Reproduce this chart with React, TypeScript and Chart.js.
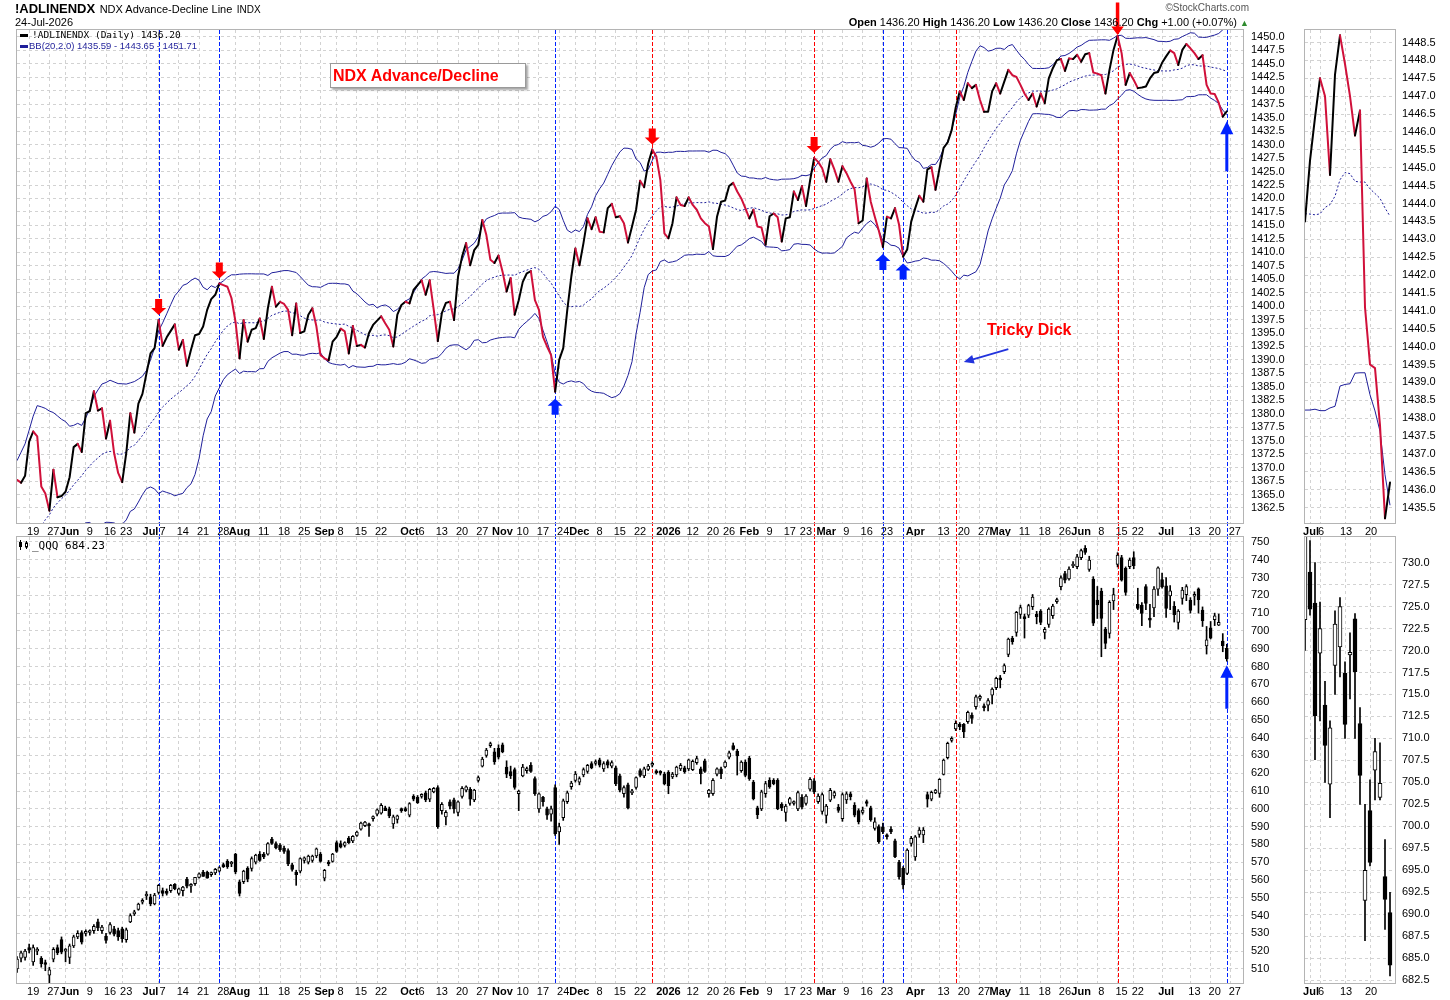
import { useEffect, useRef } from 'react';
import { Chart, registerables } from 'chart.js';

Chart.register(...registerables);

// trading sessions: first bar, and the end of the time axis (a few empty sessions after the last bar)
const FIRST_SESSION = '2025-05-14';
const AXIS_END = '2026-07-30';
const HOLIDAYS = [
    '2025-05-26', '2025-06-19', '2025-07-04', '2025-09-01', '2025-11-27', '2025-12-25',
    '2026-01-01', '2026-01-19', '2026-02-16', '2026-04-03', '2026-05-25', '2026-06-19', '2026-07-03'
];

// !ADLINENDX daily values, 14-May-2025 .. 24-Jul-2026
const AD_LINE = [
    1367.7, 1367.2, 1368.5, 1374.8, 1376.7, 1375.8, 1366.5, 1365.2, 1362.0, 1369.6,
    1364.5, 1364.7, 1365.5, 1368.2, 1373.8, 1374.4, 1372.9, 1380.1, 1380.5, 1384.2,
    1380.6, 1381.0, 1375.4, 1378.7, 1372.7, 1369.0, 1367.3, 1372.7, 1380.1, 1376.5,
    1381.9, 1383.7, 1387.5, 1391.2, 1392.2, 1397.4, 1392.6, 1394.2, 1395.4, 1396.6,
    1391.9, 1393.7, 1388.9, 1391.9, 1394.6, 1394.8, 1396.2, 1399.3, 1401.3, 1402.1,
    1404.2, 1403.9, 1403.6, 1401.5, 1397.1, 1390.3, 1397.4, 1393.4, 1395.6, 1395.9,
    1397.7, 1393.9, 1399.6, 1403.6, 1399.9, 1400.8, 1400.4, 1399.3, 1394.6, 1400.5,
    1395.0, 1395.3, 1398.4, 1399.6, 1396.2, 1390.9, 1390.3, 1389.9, 1393.4, 1394.3,
    1395.8, 1395.3, 1391.2, 1396.3, 1392.6, 1392.8, 1392.3, 1395.0, 1396.5, 1397.3,
    1398.1, 1396.8, 1395.6, 1392.5, 1398.4, 1400.2, 1400.8, 1400.5, 1403.0, 1403.9,
    1404.8, 1402.1, 1404.8, 1399.3, 1393.5, 1398.7, 1400.6, 1400.8, 1397.4, 1405.5,
    1409.2, 1411.7, 1407.6, 1410.4, 1411.4, 1416.0, 1413.2, 1408.6, 1408.0, 1409.4,
    1406.4, 1402.7, 1405.2, 1398.4, 1401.1, 1404.5, 1406.1, 1406.5, 1401.1, 1399.3,
    1394.3, 1392.5, 1390.9, 1384.1, 1390.0, 1392.2, 1399.3, 1405.5, 1410.7, 1407.6,
    1411.7, 1416.3, 1414.3, 1416.5, 1413.8, 1413.7, 1418.2, 1419.0, 1416.5, 1416.7,
    1415.4, 1411.8, 1414.8, 1417.9, 1423.3, 1422.1, 1426.5, 1429.1, 1427.8, 1423.4,
    1413.5, 1412.6, 1415.4, 1420.2, 1418.8, 1418.6, 1420.2, 1418.8, 1417.9, 1416.3,
    1415.4, 1414.8, 1410.6, 1416.6, 1419.4, 1419.6, 1422.3, 1422.9, 1421.3, 1420.0,
    1418.2, 1416.3, 1417.9, 1414.8, 1414.6, 1411.4, 1416.7, 1417.2, 1416.5, 1412.0,
    1416.3, 1416.5, 1421.3, 1419.7, 1422.3, 1418.6, 1423.3, 1427.5, 1426.8, 1425.6,
    1423.1, 1427.3, 1425.4, 1423.1, 1426.0, 1424.7, 1423.1, 1421.7, 1415.4, 1415.9,
    1423.7, 1419.4, 1416.6, 1414.0, 1411.0, 1416.6, 1416.3, 1418.2, 1415.1, 1409.2,
    1410.5, 1415.7, 1418.2, 1420.5, 1419.4, 1425.4, 1425.8, 1421.6, 1425.6, 1429.4,
    1430.4, 1432.7, 1436.9, 1439.9, 1438.3, 1441.4, 1440.5, 1441.1, 1438.3, 1436.1,
    1436.1, 1439.9, 1441.4, 1439.5, 1441.7, 1443.9, 1442.9, 1442.6, 1441.1, 1439.5,
    1438.3, 1439.5, 1437.1, 1439.5, 1437.7, 1442.3, 1444.2, 1445.7, 1445.9, 1443.7,
    1446.0, 1445.9, 1446.7, 1445.4, 1446.8, 1447.0, 1443.4, 1443.2, 1442.9, 1439.5,
    1443.9, 1447.6, 1450.2, 1447.0, 1441.1, 1443.3, 1442.0, 1440.5, 1440.6, 1440.8,
    1442.3, 1443.3, 1443.5, 1445.2, 1446.4, 1447.5, 1447.0, 1444.8, 1447.6, 1448.7,
    1447.9, 1447.0, 1445.9, 1446.6, 1441.1, 1439.5, 1439.4, 1437.8, 1435.2, 1436.2
];

// closes before the first bar, only used to seed the 20-day Bollinger Bands
const BB_SEED = [
    1328, 1331, 1333, 1336, 1338, 1337, 1341, 1344, 1343, 1347,
    1349, 1352, 1350, 1354, 1357, 1356, 1360, 1364, 1368
];

// _QQQ daily candles: [open, high, low, close]
const QQQ = [
    [510, 517, 508, 515.5], [516, 520, 514, 519], [516.5, 521, 515, 520], [522, 524, 519, 520.5], [514, 523.5, 512, 522],
    [520, 522, 518, 521], [516, 517, 511, 513], [513.5, 515, 509, 512.5], [506.5, 511, 502, 509.5], [515.5, 522, 514, 521],
    [522, 523.5, 518, 519], [526.5, 528, 518.5, 519.5], [520, 521.5, 514, 520.5], [516.5, 524, 513, 523], [523, 529, 522, 528],
    [528, 531.5, 527, 530], [530.5, 531.5, 524, 525], [530, 532, 528.5, 530.5], [530.5, 532, 529, 531], [531.5, 535, 530, 534],
    [536.5, 538, 531.5, 533], [531.5, 534.5, 530, 533.5], [528.5, 530, 524.5, 526], [530.5, 536, 529.5, 535], [532.5, 534, 528.5, 529.5],
    [531.5, 533, 526, 528], [532.5, 533.5, 525, 527], [526.5, 533, 525, 532], [536.5, 541, 536, 540], [541, 543, 540, 542],
    [543.5, 547, 543, 546.5], [547.5, 549.5, 546.5, 548], [551, 553.5, 549, 551.5], [550.5, 552, 545.5, 546.5], [546.5, 552.5, 546, 551.5],
    [553, 557.5, 552, 557], [554, 555.5, 551, 552.5], [553.5, 555, 551.5, 552.5], [554, 557.5, 553, 557], [557.5, 558, 554.5, 555],
    [552.5, 555.5, 551.5, 555], [554, 556.5, 551, 556], [560.5, 561.5, 555.5, 556.5], [556.5, 558, 553, 557], [558, 561.5, 557, 561.5],
    [561.5, 564, 561, 563.5], [564.5, 565.5, 562, 562], [564.5, 565, 561, 561], [563, 564.5, 562, 563.5], [564, 566.5, 563, 566],
    [565, 567.5, 564.5, 567], [568.5, 569.5, 567, 567.5], [570.5, 571.5, 566.5, 567.5], [569, 570.5, 567.5, 569.5], [574.5, 575, 563.5, 564.5],
    [559, 560, 551, 552.5], [559, 565.5, 558, 565], [566.5, 567.5, 559, 560.5], [566.5, 573, 565, 572], [570, 574.5, 569, 574],
    [574.5, 576, 570.5, 571], [574.5, 575.5, 572, 573], [574.5, 581, 574, 580.5], [583, 584, 580, 580.5], [580.5, 581.5, 577.5, 578],
    [579.5, 580.5, 576, 577], [578, 579, 575, 576], [576.5, 577.5, 568, 569], [568.5, 569.5, 565, 566], [564.5, 565.5, 557, 563],
    [565, 572.5, 564, 572], [571, 573, 569.5, 572.5], [570, 574, 569, 573.5], [571, 574, 570, 573.5], [573.5, 578, 572.5, 577.5],
    [574.5, 575.5, 570, 570.5], [561, 566, 559.5, 565.5], [570, 571, 568, 569], [570.5, 575, 570, 574.5], [581, 582, 575.5, 576],
    [580.5, 582, 578, 578.5], [579.5, 581.5, 578.5, 581], [583.5, 584.5, 580.5, 581], [582, 585, 581, 584.5], [585, 587.5, 584.5, 587],
    [588.5, 592.5, 588, 592], [590.5, 593, 590, 592.5], [591, 592, 584.5, 590.5], [594.5, 596, 593, 595.5], [597, 600, 596, 599.5],
    [597.5, 603, 597, 602], [600.5, 601.5, 599, 599], [600, 601, 595, 596], [591.5, 596.5, 589, 595.5], [594, 596.5, 592, 596],
    [599.5, 600.5, 598, 599], [600, 601, 598.5, 599], [596.5, 603.5, 595.5, 603], [607, 608, 604.5, 605.5], [606.5, 607.5, 603, 603.5],
    [607, 608.5, 606, 608], [609, 610, 604, 605], [605.5, 611.5, 604, 611], [609.5, 612, 609, 611.5],
    [612, 613, 589, 590], [599, 603.5, 597, 602.5], [595.5, 599, 591, 598], [604, 605, 600, 601.5], [605, 606, 597.5, 600],
    [598, 604.5, 596, 604], [607, 612.5, 606, 611.5], [610.5, 613, 609.5, 612.3], [611, 612, 602, 605.5], [605, 611, 604, 610.5],
    [616, 618.5, 615, 617.5], [624, 629, 623.5, 628], [630, 634, 629, 633], [635.5, 637.5, 634.5, 636], [632, 634, 625, 626.5],
    [634, 636, 628, 629], [636, 637, 631.5, 632], [623.5, 627, 617.5, 619.5], [621, 624, 617, 618.5], [622, 623, 611, 612],
    [608.5, 610.5, 599, 610], [618.5, 625, 618, 623.5], [621.5, 623.5, 620, 622.5], [624.5, 626, 620.5, 621], [617, 618, 607.5, 608.5],
    [600, 609, 598, 608.5], [606.5, 607, 601.5, 604], [600, 601, 594, 596.5], [597, 601.5, 593, 600], [612, 613.5, 585, 586],
    [587, 592, 580, 590], [595, 605.5, 593.5, 604.5], [604, 610, 603, 609], [612.5, 615.5, 611, 614.5], [616, 621, 615, 619.5],
    [615, 618, 613.5, 617], [619, 623, 618, 622], [621, 625, 620, 624.5], [625.5, 626.5, 622.5, 623], [625.5, 627.5, 624.5, 626.5],
    [627.5, 628.5, 623.5, 624.5], [622.5, 626.5, 621, 625.5], [626.5, 627.5, 623, 624.5], [624, 627, 623, 626], [623, 624, 613, 614],
    [618.5, 619.5, 609.5, 610.5], [608.5, 613, 606.5, 612], [613.5, 614.5, 600, 600.5], [609, 611, 608, 610], [612, 618, 611, 617.5],
    [621.5, 622.5, 618, 618.8], [618.5, 623.5, 617.5, 622.5], [622.2, 625, 621.5, 624], [624.5, 626.5, 623.5, 625], [620.8, 622, 619.5, 620.2],
    [620.5, 621.5, 619, 620], [619.5, 620.5, 613.5, 614], [620.5, 621.5, 608.5, 613], [618, 620.5, 617, 619.5], [619, 624, 618, 623.5],
    [622.5, 625.5, 621.5, 624.5], [623, 624, 620, 620.7], [622.5, 628, 621.5, 627.5], [622, 627.5, 621.5, 626.7], [626, 629.5, 625, 628.2],
    [622.5, 623.5, 614, 619.8], [627, 628, 620.5, 621], [608.5, 611, 606.5, 610.5], [608.5, 617, 607.5, 616], [619.5, 623, 618.5, 622.5],
    [622.5, 623.5, 617, 619.8], [623.5, 627, 623, 626.3], [629, 632.5, 628, 631.5], [635.5, 637, 633, 633.4], [632.5, 633.5, 619, 629.7],
    [621.5, 627, 620.5, 626.3], [626.3, 627.5, 618, 618.8], [628.5, 629.5, 616, 617], [615, 616, 605, 605.7], [600.5, 601.5, 594.5, 596.7],
    [600, 610.5, 599, 609.5], [608.5, 615.5, 606.5, 614.2], [616, 617.5, 611.5, 612.3], [616, 617, 613.5, 614.1], [616, 617, 599.5, 600.1],
    [602.5, 603.5, 599, 600.5], [598, 602.5, 593, 601.6], [603, 606.5, 602, 605.7], [603, 604.5, 602, 603.3], [600, 610, 599, 609.1],
    [606.5, 608, 600, 601], [603, 608, 602, 607.2], [611, 617.5, 610, 616.6], [615.8, 617, 608.5, 609.5], [604, 608.5, 603, 607.2],
    [598.5, 609, 597, 608], [596.3, 602.5, 592, 601.6], [604.8, 611.5, 604, 610.4], [607.2, 610, 606, 609.1], [601, 602.5, 598, 599.1],
    [594.5, 609, 593, 608],
    [605, 609.5, 603, 608.5], [608.5, 609.5, 605, 606.8], [602, 603.5, 595.5, 596.5], [599, 600, 591.5, 592.7], [598, 601, 597, 599.3],
    [603.5, 605, 601.5, 603], [600.5, 601.5, 593, 593.7], [589, 595, 588, 592.7], [590, 591, 580.5, 581.5], [589.9, 592, 586, 587.1],
    [584.9, 586, 583, 584.3], [588.5, 590, 586, 587.1], [582, 583, 572.5, 573.1], [570, 571, 560.5, 561.8], [566.5, 567.5, 555, 557.2],
    [563.7, 577.5, 563, 576.8], [580.6, 584.5, 579, 583.4], [573, 585, 571, 584.3], [585.6, 589.5, 584, 588.1], [585.3, 589.5, 581, 588.1],
    [608, 609.5, 601, 605.5], [605.5, 610, 604.5, 609.3], [609, 611, 608.5, 610.6], [608.7, 617, 606.5, 616.6], [619.4, 628, 619, 627.4],
    [628.7, 637.5, 628, 636.8], [638.5, 640.5, 637.5, 639.6], [644.9, 649.5, 644, 648.1], [647.5, 648.5, 644.5, 646.2], [647.5, 648, 640, 643.3],
    [649, 655, 648, 654.2], [652.7, 654, 648, 650.8], [657.4, 664, 656, 663], [662, 664, 661, 663.2], [657.5, 659, 655, 656.8],
    [658.3, 662, 655, 660.8], [663.9, 668, 659, 667.3], [668.1, 674, 667, 673.3], [673.7, 675, 668, 672.4], [677.1, 681.5, 676, 680.5],
    [686.8, 696, 685.5, 695.4], [695.8, 697, 692.5, 693.9], [699.2, 711, 697, 710.4], [709.3, 714.5, 707, 713.1], [708, 709.5, 696, 706.7],
    [708.9, 715, 707.5, 714.2], [713.6, 720.5, 712, 719], [709.5, 711, 704, 708], [711.2, 712, 703.5, 704.8], [699.2, 702, 695.5, 700.9],
    [703.7, 713, 702, 712.3], [708.6, 715, 707, 714], [716.5, 718.5, 715.5, 717], [724.9, 731, 723, 729.9], [732.3, 733.5, 727, 728.6],
    [729.2, 736, 728.5, 734.8], [736.5, 739, 735.5, 737.4], [736.1, 743, 735, 741.7], [741.2, 746, 740, 745.1], [746.4, 748, 743, 744.2],
    [734.6, 742, 733.5, 739.8], [729.2, 730.5, 703, 704.3], [717.4, 725, 707, 714.6], [722.4, 724, 685.5, 707], [701.1, 702, 690, 693],
    [698.6, 717, 696, 716.1], [716.8, 724, 712, 720.5], [737.4, 744, 736, 742.7], [741.2, 742.5, 728, 728.6], [735.2, 736, 720, 721.7],
    [736.1, 741, 735, 739.8], [741.2, 744.5, 735, 736.7], [714.9, 724, 712, 712.7], [714.6, 716, 703, 709.9], [724.9, 726, 712, 715.5],
    [706.5, 715, 702, 706.1], [713, 725, 708, 723.5], [723.5, 736, 720, 735.5],
    [728.9, 732.5, 724, 724.7], [725.4, 730, 707.6, 712.6], [719.7, 725.5, 712, 722.5], [713.8, 716.5, 705, 709.2], [704.8, 712, 701, 711.2],
    [718.3, 724.5, 715, 723], [720.4, 726, 717, 725], [717.4, 718.7, 710, 711.6], [719.5, 722, 714.5, 719.8], [723.6, 724.2, 710, 717.6],
    [711.7, 713.5, 702.5, 705.8], [691.6, 702.5, 687, 695], [701.8, 705.3, 695.5, 695.9], [706.4, 710, 703, 708.5], [703.3, 709.5, 703, 704.9],
    [694.3, 698.5, 688.3, 691.7], [690.2, 692.5, 683, 684.23]
];

// date axis labels (weeks, months in bold)
const AXIS_LABELS = [
    ['2025-05-19', '19'], ['2025-05-27', '27'], ['2025-06-02', 'Jun'], ['2025-06-09', '9'], ['2025-06-16', '16'],
    ['2025-06-23', '23'], ['2025-07-01', 'Jul'], ['2025-07-07', '7'], ['2025-07-14', '14'], ['2025-07-21', '21'],
    ['2025-07-28', '28'], ['2025-08-01', 'Aug'], ['2025-08-11', '11'], ['2025-08-18', '18'], ['2025-08-25', '25'],
    ['2025-09-02', 'Sep'], ['2025-09-08', '8'], ['2025-09-15', '15'], ['2025-09-22', '22'], ['2025-10-01', 'Oct'],
    ['2025-10-06', '6'], ['2025-10-13', '13'], ['2025-10-20', '20'], ['2025-10-27', '27'], ['2025-11-03', 'Nov'],
    ['2025-11-10', '10'], ['2025-11-17', '17'], ['2025-11-24', '24'], ['2025-12-01', 'Dec'], ['2025-12-08', '8'],
    ['2025-12-15', '15'], ['2025-12-22', '22'], ['2026-01-02', '2026'], ['2026-01-12', '12'], ['2026-01-20', '20'],
    ['2026-01-26', '26'], ['2026-02-02', 'Feb'], ['2026-02-09', '9'], ['2026-02-17', '17'], ['2026-02-23', '23'],
    ['2026-03-02', 'Mar'], ['2026-03-09', '9'], ['2026-03-16', '16'], ['2026-03-23', '23'], ['2026-04-01', 'Apr'],
    ['2026-04-13', '13'], ['2026-04-20', '20'], ['2026-04-27', '27'], ['2026-05-01', 'May'], ['2026-05-11', '11'],
    ['2026-05-18', '18'], ['2026-05-26', '26'], ['2026-06-01', 'Jun'], ['2026-06-08', '8'], ['2026-06-15', '15'],
    ['2026-06-22', '22'], ['2026-07-01', 'Jul'], ['2026-07-13', '13'], ['2026-07-20', '20'], ['2026-07-27', '27']
];

// zoomed panel on the right: first session shown and its labels
const ZOOM_FIRST = '2026-06-30';
const ZOOM_LABELS = [['2026-07-01', 'Jul'], ['2026-07-06', '6'], ['2026-07-13', '13'], ['2026-07-20', '20']];

// annotations
const RED_MARKERS = ['2025-12-29', '2026-02-26', '2026-04-17', '2026-06-15'];
const BLUE_MARKERS = ['2025-07-07', '2025-07-28', '2025-11-21', '2026-03-23', '2026-03-30', '2026-07-24'];
const PEAK_ARROWS = ['2025-07-07', '2025-07-28', '2025-12-29', '2026-02-26'];
const TROUGH_ARROWS = ['2025-11-21', '2026-03-23', '2026-03-30'];
const TOP_ARROW = '2026-06-15';
const LAST_ARROW = '2026-07-24';
const TRICKY_DICK_ARROW = [['2026-05-06', 1392.0], ['2026-04-21', 1389.6]];

const SANS = "'Liberation Sans', Arial, Helvetica, sans-serif";
const MONO = "'DejaVu Sans Mono', monospace";
const INK = '#000000';
const DOWN = '#d0103a';
const NAVY = '#1f1f9a';
const GRID = '#d2d2d2';
const FRAME = '#b4b4b4';
const RED = '#ff0000';
const BLUE = '#0022ff';

function sessions(from: string, to: string) {
    const out: string[] = [];
    const d = new Date(from + 'T00:00:00Z');
    const end = new Date(to + 'T00:00:00Z');
    while (d <= end) {
        const key = d.toISOString().slice(0, 10);
        const wd = d.getUTCDay();
        if (wd !== 0 && wd !== 6 && !HOLIDAYS.includes(key)) out.push(key);
        d.setUTCDate(d.getUTCDate() + 1);
    }
    return out;
}

function bollinger(values: number[], seed: number[], n: number, k: number) {
    const all = [...seed, ...values];
    const upper: number[] = [];
    const middle: number[] = [];
    const lower: number[] = [];
    for (let i = 0; i < values.length; i++) {
        const end = i + seed.length + 1;
        const win = all.slice(end - n, end);
        const m = win.reduce((a, b) => a + b, 0) / n;
        const sd = Math.sqrt(win.reduce((a, b) => a + (b - m) * (b - m), 0) / n);
        middle.push(m);
        upper.push(m + k * sd);
        lower.push(m - k * sd);
    }
    return { upper, middle, lower };
}

const DAYS = sessions(FIRST_SESSION, AXIS_END);
const dayIndex = (d: string) => DAYS.indexOf(d);
const ZOOM_START = dayIndex(ZOOM_FIRST);
const ZOOM_DAYS = DAYS.slice(ZOOM_START, AD_LINE.length + 1);
const BB = bollinger(AD_LINE, BB_SEED, 20, 2);

function xAxis(labels: string[], names: string[][], labelOffset: number) {
    const text = new Map(names.map(([d, t]) => [d, t]));
    const at = (i: number) => text.get(labels[i]) ?? '';
    return {
        type: 'category',
        offset: false,
        grid: { color: (c: any) => (at(c.index) ? GRID : 'rgba(0,0,0,0)'), drawTicks: false, offset: false },
        border: { display: false, dash: [3, 3] },
        ticks: {
            autoSkip: false,
            maxRotation: 0,
            minRotation: 0,
            padding: 2,
            labelOffset,
            color: INK,
            callback: (_v: any, i: number) => at(i),
            font: (c: any) => ({ family: SANS, size: 11, weight: /^\d{1,2}$/.test(at(c.index)) ? 'normal' : 'bold' })
        },
        afterFit: (s: any) => {
            s.height = 14;
            s.paddingLeft = 0;
            s.paddingRight = 0;
        }
    };
}

function yAxis(min: number, max: number, step: number, lo: number, hi: number, digits: number, width: number, pad: number) {
    return {
        position: 'right',
        min,
        max,
        grid: { color: GRID, drawTicks: false },
        border: { display: false, dash: [3, 3] },
        ticks: {
            stepSize: step,
            includeBounds: false,
            maxTicksLimit: 200,
            autoSkip: false,
            padding: pad,
            color: INK,
            font: { family: SANS, size: 11 },
            callback: (v: any) => Number(v).toFixed(digits)
        },
        afterBuildTicks: (s: any) => {
            s.ticks = s.ticks.filter((t: any) => t.value >= lo - 1e-6 && t.value <= hi + 1e-6);
        },
        afterFit: (s: any) => {
            s.width = width;
            s.paddingTop = 0;
            s.paddingBottom = 0;
        }
    };
}

function drawFrame(chart: any) {
    const { ctx, chartArea: a } = chart;
    ctx.save();
    ctx.strokeStyle = FRAME;
    ctx.lineWidth = 1;
    ctx.setLineDash([]);
    ctx.strokeRect(Math.round(a.left) - 0.5, Math.round(a.top) - 0.5, Math.round(a.right - a.left) + 1, Math.round(a.bottom - a.top) + 1);
    ctx.restore();
}

function drawMarkers(chart: any, top: number, bottom: number) {
    const { ctx } = chart;
    const x = chart.scales.x;
    ctx.save();
    ctx.lineWidth = 1;
    ctx.setLineDash([4, 2]);
    const lines = [...RED_MARKERS.map((d) => [d, RED]), ...BLUE_MARKERS.map((d) => [d, BLUE])];
    for (const [day, color] of lines) {
        const px = Math.round(x.getPixelForValue(dayIndex(day))) + 0.5;
        ctx.strokeStyle = color;
        ctx.beginPath();
        ctx.moveTo(px, top);
        ctx.lineTo(px, bottom);
        ctx.stroke();
    }
    ctx.restore();
}

// block arrow; dir 1 points down (tip at the bottom), -1 points up
function blockArrow(ctx: CanvasRenderingContext2D, x: number, tipY: number, dir: number, color: string, headW: number, headH: number, shaftW: number, shaftH: number) {
    const baseY = tipY - dir * headH;
    const endY = baseY - dir * shaftH;
    ctx.save();
    ctx.fillStyle = color;
    ctx.beginPath();
    ctx.moveTo(x, tipY);
    ctx.lineTo(x + headW / 2, baseY);
    ctx.lineTo(x + shaftW / 2, baseY);
    ctx.lineTo(x + shaftW / 2, endY);
    ctx.lineTo(x - shaftW / 2, endY);
    ctx.lineTo(x - shaftW / 2, baseY);
    ctx.lineTo(x - headW / 2, baseY);
    ctx.closePath();
    ctx.fill();
    ctx.restore();
}

const adOverlay = {
    id: 'adOverlay',
    beforeDatasetsDraw(chart: any) {
        drawMarkers(chart, chart.chartArea.top, chart.height);
    },
    afterDatasetsDraw(chart: any) {
        drawFrame(chart);
        const { ctx } = chart;
        const x = chart.scales.x;
        const y = chart.scales.y;
        const at = (d: string) => {
            const i = dayIndex(d);
            return [x.getPixelForValue(i), y.getPixelForValue(AD_LINE[i])];
        };
        for (const d of PEAK_ARROWS) {
            const [px, py] = at(d);
            blockArrow(ctx, px, py - 5, 1, RED, 15, 7, 7, 9);
        }
        for (const d of TROUGH_ARROWS) {
            const [px, py] = at(d);
            blockArrow(ctx, px, py + 7, -1, BLUE, 15, 7, 7, 9);
        }
        const [tx, ty] = at(TOP_ARROW);
        blockArrow(ctx, tx, ty - 1, 1, RED, 12.5, 8.5, 3.5, 24);
        const [lx, ly] = at(LAST_ARROW);
        blockArrow(ctx, lx, ly + 10, -1, BLUE, 13, 13, 3, 37);

        // pointer next to the "Tricky Dick" note
        const [[d0, v0], [d1, v1]] = TRICKY_DICK_ARROW as [string, number][];
        const x0 = x.getPixelForValue(dayIndex(d0));
        const y0 = y.getPixelForValue(v0);
        const x1 = x.getPixelForValue(dayIndex(d1));
        const y1 = y.getPixelForValue(v1);
        const ang = Math.atan2(y1 - y0, x1 - x0);
        ctx.save();
        ctx.strokeStyle = '#2233dd';
        ctx.fillStyle = '#2233dd';
        ctx.lineWidth = 2;
        ctx.beginPath();
        ctx.moveTo(x0, y0);
        ctx.lineTo(x1 - 6 * Math.cos(ang), y1 - 6 * Math.sin(ang));
        ctx.stroke();
        ctx.beginPath();
        ctx.moveTo(x1, y1);
        ctx.lineTo(x1 - 10 * Math.cos(ang) + 4.5 * Math.sin(ang), y1 - 10 * Math.sin(ang) - 4.5 * Math.cos(ang));
        ctx.lineTo(x1 - 10 * Math.cos(ang) - 4.5 * Math.sin(ang), y1 - 10 * Math.sin(ang) + 4.5 * Math.cos(ang));
        ctx.closePath();
        ctx.fill();
        ctx.restore();
    }
};

const qqqOverlay = {
    id: 'qqqOverlay',
    beforeDatasetsDraw(chart: any) {
        drawMarkers(chart, 0, chart.chartArea.bottom);
    },
    afterDatasetsDraw(chart: any) {
        drawFrame(chart);
        const i = dayIndex(LAST_ARROW);
        blockArrow(chart.ctx, chart.scales.x.getPixelForValue(i), chart.scales.y.getPixelForValue(QQQ[i][2]) + 4, -1, BLUE, 13, 12.5, 3, 31);
    }
};

const frameOnly = {
    id: 'frameOnly',
    afterDatasetsDraw(chart: any) {
        drawFrame(chart);
    }
};

const upDown = (c: any) => (c.p1.parsed.y < c.p0.parsed.y ? DOWN : INK);

function baseOptions(padLeft: number, padTop: number) {
    return {
        responsive: false,
        animation: false,
        events: [],
        layout: { padding: { left: padLeft, top: padTop, right: 0, bottom: 0 } },
        plugins: { legend: { display: false }, tooltip: { enabled: false } },
        elements: { point: { radius: 0, hoverRadius: 0 }, line: { tension: 0 } }
    };
}

function lineDatasets(ad: number[], upper: number[], middle: number[], lower: number[]) {
    return [
        { data: ad, borderColor: INK, borderWidth: 2, borderJoinStyle: 'round', borderCapStyle: 'round', segment: { borderColor: upDown }, order: 0 },
        { data: upper, borderColor: NAVY, borderWidth: 1, order: 1 },
        { data: middle, borderColor: NAVY, borderWidth: 1, borderDash: [2, 2], order: 1 },
        { data: lower, borderColor: NAVY, borderWidth: 1, order: 1 }
    ];
}

function candleDatasets(rows: number[][], bodyWidth: number) {
    return [
        { data: rows.map((r) => [r[2], r[1]]), backgroundColor: INK, barThickness: 1, grouped: false, order: 2 },
        {
            data: rows.map((r) => [r[0], r[3]]),
            backgroundColor: (c: any) => {
                const r = rows[c.dataIndex];
                return r && r[3] >= r[0] ? '#ffffff' : INK;
            },
            borderColor: INK,
            borderWidth: 1,
            borderSkipped: false,
            barThickness: bodyWidth,
            minBarLength: 2,
            grouped: false,
            order: 1
        }
    ];
}

const buildAd = () => ({
    type: 'line',
    data: { labels: DAYS, datasets: lineDatasets(AD_LINE, BB.upper, BB.middle, BB.lower) },
    options: {
        ...baseOptions(17, 30),
        scales: { x: xAxis(DAYS, AXIS_LABELS, 4), y: yAxis(1359.7, 1451.3, 2.5, 1362.5, 1450, 1, 57, 8) }
    },
    plugins: [adOverlay]
});

const buildQqq = () => ({
    type: 'bar',
    data: { labels: DAYS, datasets: candleDatasets(QQQ, 3) },
    options: {
        ...baseOptions(17, 2),
        scales: { x: xAxis(DAYS, AXIS_LABELS, 4), y: yAxis(502.1, 752.8, 10, 510, 750, 0, 57, 8) }
    },
    plugins: [qqqOverlay]
});

const buildZoomAd = () => ({
    type: 'line',
    data: {
        labels: ZOOM_DAYS,
        datasets: lineDatasets(
            AD_LINE.slice(ZOOM_START),
            BB.upper.slice(ZOOM_START),
            BB.middle.slice(ZOOM_START),
            BB.lower.slice(ZOOM_START)
        )
    },
    options: {
        ...baseOptions(5, 30),
        scales: { x: xAxis(ZOOM_DAYS, ZOOM_LABELS, 1), y: yAxis(1435.07, 1448.85, 0.5, 1435.5, 1448.5, 1, 55, 7) }
    },
    plugins: [frameOnly]
});

const buildZoomQqq = () => ({
    type: 'bar',
    data: { labels: ZOOM_DAYS, datasets: candleDatasets(QQQ.slice(ZOOM_START), 4) },
    options: {
        ...baseOptions(5, 2),
        scales: { x: xAxis(ZOOM_DAYS, ZOOM_LABELS, 1), y: yAxis(682.2, 732.9, 2.5, 682.5, 730, 1, 55, 7) }
    },
    plugins: [frameOnly]
});

interface PanelProps {
    left: number;
    top: number;
    width: number;
    height: number;
    build: () => any;
}

function Panel({ left, top, width, height, build }: PanelProps) {
    const canvasRef = useRef<HTMLCanvasElement>(null);

    useEffect(() => {
        if (!canvasRef.current) return;
        const chart = new Chart(canvasRef.current, build());
        return () => {
            chart.destroy();
        };
    }, [build]);

    return (
        <canvas
            ref={canvasRef}
            width={width}
            height={height}
            style={{ position: 'absolute', left, top, width: `${width}px`, height: `${height}px` }}
        />
    );
}

const abs = (left: number, top: number) => ({ position: 'absolute' as const, left, top, whiteSpace: 'nowrap' as const });

export default function App() {
    return (
        <div style={{ position: 'absolute', left: 0, top: 0, width: 1450, height: 1000, background: '#ffffff', fontFamily: SANS, color: INK, overflow: 'hidden' }}>
            <Panel left={0} top={0} width={1300} height={537} build={buildAd} />
            <Panel left={0} top={535} width={1300} height={462} build={buildQqq} />
            <Panel left={1300} top={0} width={150} height={537} build={buildZoomAd} />
            <Panel left={1300} top={535} width={150} height={462} build={buildZoomQqq} />

            <div style={{ ...abs(15, 1), lineHeight: '14px' }}>
                <b style={{ fontSize: 13 }}>!ADLINENDX</b>{' '}
                <span style={{ fontSize: 11 }}>NDX Advance-Decline Line</span>{' '}
                <span style={{ fontSize: 10 }}>INDX</span>
            </div>
            <div style={{ ...abs(15, 16), fontSize: 11, lineHeight: '13px' }}>24-Jul-2026</div>
            <div style={{ position: 'absolute', right: 201, top: 2, fontSize: 10, color: '#555555', lineHeight: '12px', whiteSpace: 'nowrap' }}>
                ©StockCharts.com
            </div>
            <div style={{ position: 'absolute', right: 201, top: 16, fontSize: 11, lineHeight: '13px', whiteSpace: 'nowrap' }}>
                <b>Open</b> 1436.20 <b>High</b> 1436.20 <b>Low</b> 1436.20 <b>Close</b> 1436.20 <b>Chg</b> +1.00 (+0.07%){' '}
                <span style={{ color: '#2e8b2e', fontSize: 9 }}>▲</span>
            </div>

            <div style={{ ...abs(20, 29), font: `9.5px ${MONO}`, lineHeight: '11px' }}>
                <span style={{ display: 'inline-block', width: 8, height: 3, background: INK, verticalAlign: 'middle', marginRight: 4 }} />
                !ADLINENDX (Daily) 1436.20
            </div>
            <div style={{ ...abs(20, 40), fontSize: 9.5, lineHeight: '11px', color: NAVY }}>
                <span style={{ display: 'inline-block', width: 8, height: 3, background: NAVY, verticalAlign: 'middle', marginRight: 1 }} />
                BB(20,2.0) 1435.59 - 1443.65 - 1451.71
            </div>

            <div
                style={{
                    ...abs(330, 63),
                    width: 192,
                    height: 23,
                    border: '1px solid #9a9a9a',
                    boxShadow: '2px 2px 2px rgba(0,0,0,0.35)',
                    background: '#ffffff',
                    color: RED,
                    fontWeight: 'bold',
                    fontSize: 16,
                    lineHeight: '23px',
                    paddingLeft: 2
                }}
            >
                NDX Advance/Decline
            </div>
            <div style={{ ...abs(987, 321), color: RED, fontWeight: 'bold', fontSize: 16, lineHeight: '18px' }}>Tricky Dick</div>

            <div style={{ ...abs(18, 539), font: `11px ${MONO}`, lineHeight: '13px' }}>
                <svg width="11" height="10" style={{ verticalAlign: '-1px', marginRight: 3 }}>
                    <line x1="2.5" y1="0" x2="2.5" y2="10" stroke={INK} />
                    <rect x="1" y="2" width="3" height="5" fill={INK} />
                    <line x1="8.5" y1="1" x2="8.5" y2="9" stroke={INK} />
                    <rect x="7.5" y="3" width="2" height="4" fill="#ffffff" stroke={INK} />
                </svg>
                _QQQ 684.23
            </div>
        </div>
    );
}
